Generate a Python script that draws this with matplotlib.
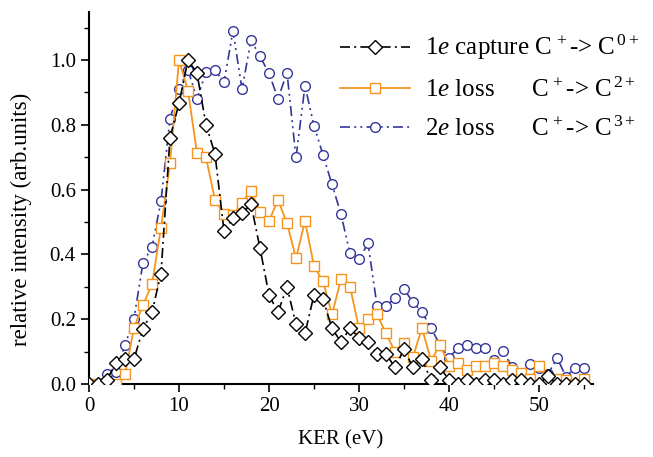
import matplotlib
matplotlib.use("Agg")
import matplotlib.pyplot as plt
from matplotlib.ticker import MultipleLocator

plt.rcParams['font.family'] = ['Liberation Serif', 'DejaVu Serif']
plt.rcParams['mathtext.fontset'] = 'custom'
plt.rcParams['mathtext.rm'] = 'Liberation Serif'
plt.rcParams['mathtext.it'] = 'Liberation Serif:italic'

ker = list(range(0, 56))

capture_1e = [0.0, 0.0, 0.013, 0.066, 0.077, 0.077, 0.17, 0.222, 0.341, 0.76,
              0.866, 1.0, 0.959, 0.80, 0.71, 0.472, 0.511, 0.527, 0.555, 0.419,
              0.275, 0.221, 0.30, 0.184, 0.156, 0.275, 0.262, 0.172, 0.129, 0.172,
              0.143, 0.129, 0.093, 0.093, 0.051, 0.107, 0.051, 0.076, 0.012, 0.052,
              0.012, 0.0, 0.012, 0.0, 0.012, 0.012, 0.0, 0.012, 0.012, 0.0,
              0.0, 0.025, 0.0, 0.0, 0.0, 0.0]

loss_1e = [0.0, 0.0, 0.0, 0.0, 0.03, 0.173, 0.244, 0.308, 0.482, 0.681,
           1.0, 0.905, 0.712, 0.699, 0.568, 0.524, 0.52, 0.56, 0.596, 0.532,
           0.503, 0.568, 0.496, 0.388, 0.503, 0.364, 0.317, 0.215, 0.323, 0.30,
           0.172, 0.20, 0.215, 0.156, 0.10, 0.128, 0.084, 0.173, 0.072, 0.121,
           0.057, 0.064, 0.043, 0.057, 0.057, 0.064, 0.057, 0.043, 0.034, 0.014,
           0.057, 0.012, 0.014, 0.012, 0.0, 0.014]

loss_2e = [0.0, 0.0, 0.031, 0.038, 0.12, 0.202, 0.374, 0.423, 0.564, 0.819,
           0.91, 0.97, 0.88, 0.962, 0.969, 0.931, 1.09, 0.909, 1.061, 1.011,
           0.959, 0.88, 0.961, 0.699, 0.92, 0.797, 0.707, 0.616, 0.524, 0.403,
           0.385, 0.434, 0.242, 0.242, 0.264, 0.293, 0.252, 0.222, 0.173, 0.12,
           0.081, 0.111, 0.12, 0.111, 0.111, 0.074, 0.101, 0.053, 0.03, 0.062,
           0.05, 0.03, 0.081, 0.023, 0.05, 0.05]

labels = [r'1$\mathit{e}$ capture C$^{\,+}$-> C$^{\,0+}$',
          r'1$\mathit{e}$ loss      C$^{\,+}$-> C$^{\,2+}$',
          r'2$\mathit{e}$ loss      C$^{\,+}$-> C$^{\,3+}$']

fig = plt.figure(figsize=(6.53, 4.57), dpi=100)
ax = fig.add_axes([89/653, 1-384/457, 504/653, 372/457])

blue = '#34379a'
orange = '#f7941d'

ax.plot(ker, loss_2e, color=blue, linestyle=(0, (6, 2.5, 1.2, 2.5, 1.2, 2.5)), lw=1.2,
        marker='o', markersize=7, markerfacecolor='white', markeredgecolor=blue,
        markeredgewidth=1.0, label=labels[2], zorder=2)
ax.plot(ker, loss_1e, color=orange, linestyle='-', lw=1.3,
        marker='s', markersize=7, markerfacecolor='white', markeredgecolor=orange,
        markeredgewidth=1.0, label=labels[1], zorder=3)
ax.plot(ker, capture_1e, color='black', linestyle=(0, (6, 2.5, 1.2, 2.5)), lw=1.2,
        marker='D', markersize=7, markerfacecolor='white', markeredgecolor='black',
        markeredgewidth=1.0, label=labels[0], zorder=4)

ax.set_xlim(0, 56)
ax.set_ylim(0, 1.148)
ax.xaxis.set_major_locator(MultipleLocator(10))
ax.xaxis.set_minor_locator(MultipleLocator(5))
ax.yaxis.set_major_locator(MultipleLocator(0.2))
ax.yaxis.set_minor_locator(MultipleLocator(0.1))
ax.yaxis.set_major_formatter(plt.FormatStrFormatter('%.1f'))
ax.spines['top'].set_visible(False)
ax.spines['right'].set_visible(False)
ax.spines['left'].set_linewidth(1.5)
ax.spines['bottom'].set_linewidth(1.5)
ax.tick_params(which='major', direction='out', length=6, width=1.2, labelsize=15)
ax.tick_params(which='minor', direction='out', length=3.5, width=1.0)

ax.set_xlabel('KER (eV)', fontsize=15)
ax.xaxis.set_label_coords(0.5, -(430 - 384) / 372)
ax.set_ylabel('relative intensity (arb.units)', fontsize=16.5)
ax.yaxis.set_label_coords((32 - 89) / 504, (384 - 219) / 372)

handles, labs = ax.get_legend_handles_labels()
order = [2, 1, 0]
leg = ax.legend([handles[i] for i in order], [labs[i] for i in order],
                loc='upper left', bbox_to_anchor=(340 / 653, 1 - 33 / 457),
                bbox_transform=fig.transFigure, frameon=False, borderpad=0,
                borderaxespad=0, fontsize=18, handlelength=2.8,
                labelspacing=0.6, handletextpad=0.6)

fig.savefig('out.png', dpi=100)
